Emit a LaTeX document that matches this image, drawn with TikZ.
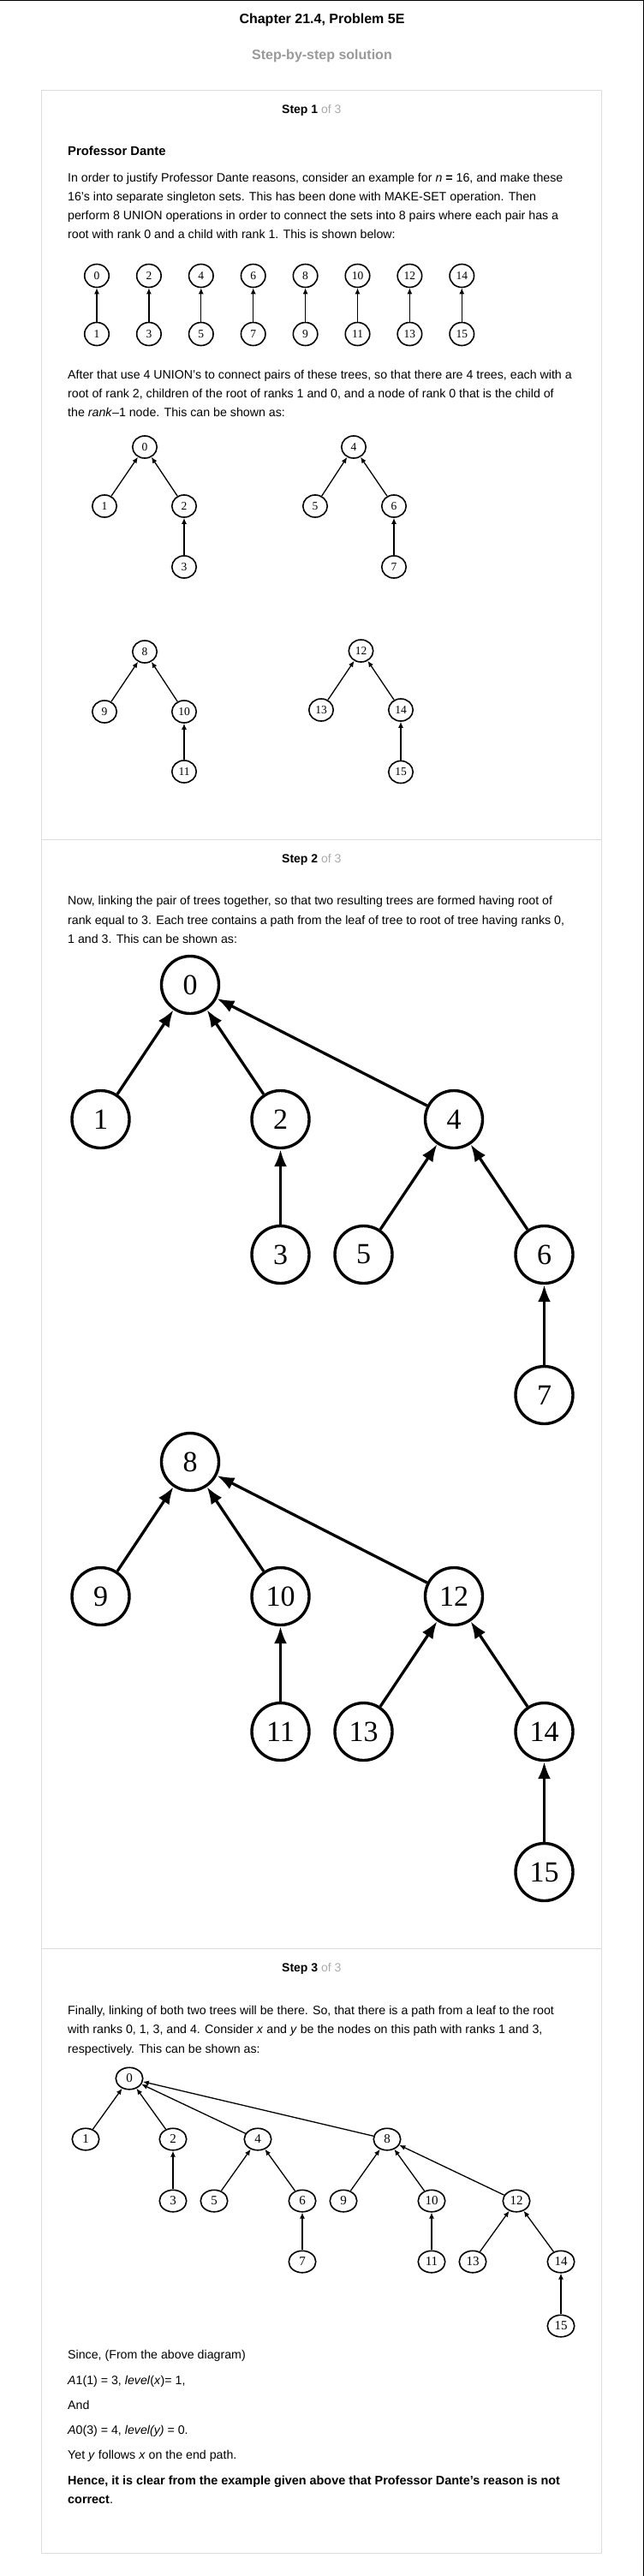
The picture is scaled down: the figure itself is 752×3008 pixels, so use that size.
\documentclass[tikz,border=0pt]{standalone}
\usepackage{fontspec}
\setmainfont{Liberation Sans}
\newfontfamily\zahlfont{Liberation Serif}
\usepackage{tikz}
\usetikzlibrary{arrows.meta,positioning,shapes.geometric}
\definecolor{rahmengrau}{HTML}{DDDDDD}
\definecolor{textgrau}{HTML}{999999}
\definecolor{hellgrau}{HTML}{AAAAAA}

\tikzset{
  knoten/.style={ellipse, draw, line width=1.6pt, minimum width=28.5pt, minimum height=26pt, inner sep=0pt, font=\zahlfont\fontsize{13.5}{14}\selectfont},
  mittelknoten/.style={knoten, minimum width=31.5pt, minimum height=25.5pt, font=\zahlfont\fontsize{15}{15}\selectfont},
  grossknoten/.style={circle, draw, line width=3.4pt, minimum size=67pt, inner sep=0pt, font=\zahlfont\fontsize{34}{34}\selectfont},
  pfeil/.style={-{Latex[length=7pt,width=6pt]}, line width=1.3pt},
  grosspfeil/.style={-{Latex[length=20pt,width=15pt]}, line width=3.3pt},
  zeile/.style={anchor=base west, inner sep=0pt, font=\fontsize{14.2}{16}\selectfont},
  fettzeile/.style={zeile, font=\bfseries\fontsize{14.4}{16}\selectfont},
  kopf/.style={anchor=base, inner sep=0pt, font=\bfseries\fontsize{16}{18}\selectfont},
  schritt/.style={anchor=base west, inner sep=0pt, font=\fontsize{14}{16}\selectfont},
}

\begin{document}
\begin{tikzpicture}[x=1pt, y=-1pt]
	\useasboundingbox (0,0) rectangle (752,3008); % Bildgroesse
	\fill[white] (0,0) rectangle (752,3008);
	\fill[black] (0,0) rectangle (752,1.4); % schwarzer Rand oben
	\fill[black] (750.8,0) rectangle (752,3008); % und rechts
	
	\node[kopf] (titel) at (376,28) {Chapter 21.4, Problem 5E};
	\node[kopf, textgrau] (loesung) at (376,70) {Step-by-step solution};
	
	\draw[rahmengrau, line width=1pt] (48.5,105.5) rectangle (702.5,2981.5);
	\draw[rahmengrau, line width=1pt] (48.5,980) -- (702.5,980);
	\draw[rahmengrau, line width=1pt] (48.5,2275) -- (702.5,2275);
	
	% Schritt 1
	\node[schritt] (s1) at (329,133) {\textbf{Step 1} \textcolor{hellgrau}{of 3}};
	\node[fettzeile, font=\bfseries\fontsize{14.8}{16}\selectfont] (prof) at (79,181) {Professor Dante};
	\node[zeile] (p1a) at (79,212) {In order to justify Professor Dante reasons, consider an example for \textit{n} \textbf{=} 16, and make these};
	\node[zeile] (p1b) at (79,234) {16’s into separate singleton sets. This has been done with MAKE-SET operation. Then};
	\node[zeile] (p1c) at (79,256) {perform 8 UNION operations in order to connect the sets into 8 pairs where each pair has a};
	\node[zeile] (p1d) at (79,278) {root with rank 0 and a child with rank 1. This is shown below:};
	
	\foreach \i in {0,...,7}{
		\pgfmathtruncatemacro{\oben}{2*\i}
		\pgfmathtruncatemacro{\unten}{2*\i+1}
		\node[knoten, minimum height=27pt] (a\oben) at (113+60.9*\i,322) {\oben};
		\node[knoten, minimum height=27pt] (a\unten) at (113+60.9*\i,390) {\unten};
		\draw[pfeil] (a\unten) -- (a\oben);
	}
	
	\node[zeile] (p2a) at (79,442) {After that use 4 UNION’s to connect pairs of these trees, so that there are 4 trees, each with a};
	\node[zeile] (p2b) at (79,464) {root of rank 2, children of the root of ranks 1 and 0, and a node of rank 0 that is the child of};
	\node[zeile] (p2c) at (79,486) {the \textit{rank}–1 node. This can be shown as:};
	
	\node[knoten] (b0) at (169,522) {0};
	\node[knoten] (b1) at (122,591) {1};
	\node[knoten] (b2) at (215,591) {2};
	\node[knoten] (b3) at (215,662) {3};
	\node[knoten] (b4) at (413,522) {4};
	\node[knoten] (b5) at (368,591) {5};
	\node[knoten] (b6) at (460,591) {6};
	\node[knoten] (b7) at (460,662) {7};
	\node[knoten] (b8) at (169,761) {8};
	\node[knoten] (b9) at (122,831) {9};
	\node[knoten] (b10) at (215,831) {10};
	\node[knoten] (b11) at (215,901) {11};
	\node[knoten] (b12) at (421.5,760) {12};
	\node[knoten] (b13) at (375,829) {13};
	\node[knoten] (b14) at (468,829) {14};
	\node[knoten] (b15) at (468,901.5) {15};
	\foreach \k/\e in {1/0,2/0,3/2,5/4,6/4,7/6,9/8,10/8,11/10,13/12,14/12,15/14}
		\draw[pfeil] (b\k) -- (b\e);
	
	% Schritt 2
	\node[schritt] (s2) at (329,1007) {\textbf{Step 2} \textcolor{hellgrau}{of 3}};
	\node[zeile] (p3a) at (79,1056) {Now, linking the pair of trees together, so that two resulting trees are formed having root of};
	\node[zeile] (p3b) at (79,1079) {rank equal to 3. Each tree contains a path from the leaf of tree to root of tree having ranks 0,};
	\node[zeile] (p3c) at (79,1101) {1 and 3. This can be shown as:};
	
	\node[grossknoten] (c0) at (222,1150) {0};
	\node[grossknoten] (c1) at (117.5,1307) {1};
	\node[grossknoten] (c2) at (327.5,1307) {2};
	\node[grossknoten] (c4) at (530,1307) {4};
	\node[grossknoten] (c3) at (327.5,1465) {3};
	\node[grossknoten] (c5) at (424.5,1465) {5};
	\node[grossknoten] (c6) at (635.5,1465) {6};
	\node[grossknoten] (c7) at (635.5,1629) {7};
	\node[grossknoten] (c8) at (222,1707) {8};
	\node[grossknoten] (c9) at (117.5,1864) {9};
	\node[grossknoten] (c10) at (327.5,1864) {10};
	\node[grossknoten] (c12) at (530,1864) {12};
	\node[grossknoten] (c11) at (327.5,2022) {11};
	\node[grossknoten] (c13) at (424.5,2022) {13};
	\node[grossknoten] (c14) at (635.5,2022) {14};
	\node[grossknoten] (c15) at (635.5,2186) {15};
	\foreach \k/\e in {1/0,2/0,4/0,3/2,5/4,6/4,7/6,9/8,10/8,12/8,11/10,13/12,14/12,15/14}
		\draw[grosspfeil] (c\k) -- (c\e);
	
	% Schritt 3
	\node[schritt] (s3) at (329,2302) {\textbf{Step 3} \textcolor{hellgrau}{of 3}};
	\node[zeile] (p4a) at (79,2352) {Finally, linking of both two trees will be there. So, that there is a path from a leaf to the root};
	\node[zeile] (p4b) at (79,2374) {with ranks 0, 1, 3, and 4. Consider \textit{x} and \textit{y} be the nodes on this path with ranks 1 and 3,};
	\node[zeile] (p4c) at (79,2397) {respectively. This can be shown as:};
	
	\node[mittelknoten] (d0) at (151,2427) {0};
	\node[mittelknoten] (d1) at (100,2498) {1};
	\node[mittelknoten] (d2) at (202,2498) {2};
	\node[mittelknoten] (d4) at (301,2498) {4};
	\node[mittelknoten] (d8) at (452,2498) {8};
	\node[mittelknoten] (d3) at (202,2570) {3};
	\node[mittelknoten] (d5) at (250,2570) {5};
	\node[mittelknoten] (d6) at (353,2570) {6};
	\node[mittelknoten] (d9) at (401,2570) {9};
	\node[mittelknoten] (d10) at (504,2570) {10};
	\node[mittelknoten] (d12) at (603,2570) {12};
	\node[mittelknoten] (d7) at (353,2641) {7};
	\node[mittelknoten] (d11) at (504,2641) {11};
	\node[mittelknoten] (d13) at (552,2641) {13};
	\node[mittelknoten] (d14) at (655,2641) {14};
	\node[mittelknoten] (d15) at (655,2716) {15};
	\foreach \k/\e in {1/0,2/0,4/0,8/0,3/2,5/4,6/4,7/6,9/8,10/8,12/8,11/10,13/12,14/12,15/14}
		\draw[pfeil] (d\k) -- (d\e);
	
	\node[zeile] (p5) at (79,2754) {Since, (From the above diagram)};
	\node[zeile] (p6) at (79,2784) {\textit{A}1(1) = 3, \textit{level}(\textit{x})= 1,};
	\node[zeile] (p7) at (79,2813) {And};
	\node[zeile] (p8) at (79,2842) {\textit{A}0(3) = 4, \textit{level(y)} = 0.};
	\node[zeile] (p9) at (79,2871) {Yet \textit{y} follows \textit{x} on the end path.};
	\node[fettzeile] (p10a) at (79,2901) {Hence, it is clear from the example given above that Professor Dante’s reason is not};
	\node[fettzeile] (p10b) at (79,2923) {correct\textmd{.}};
	
	%\draw[help lines, step=100] (0,0) grid (752,3008);
\end{tikzpicture}
\end{document}
